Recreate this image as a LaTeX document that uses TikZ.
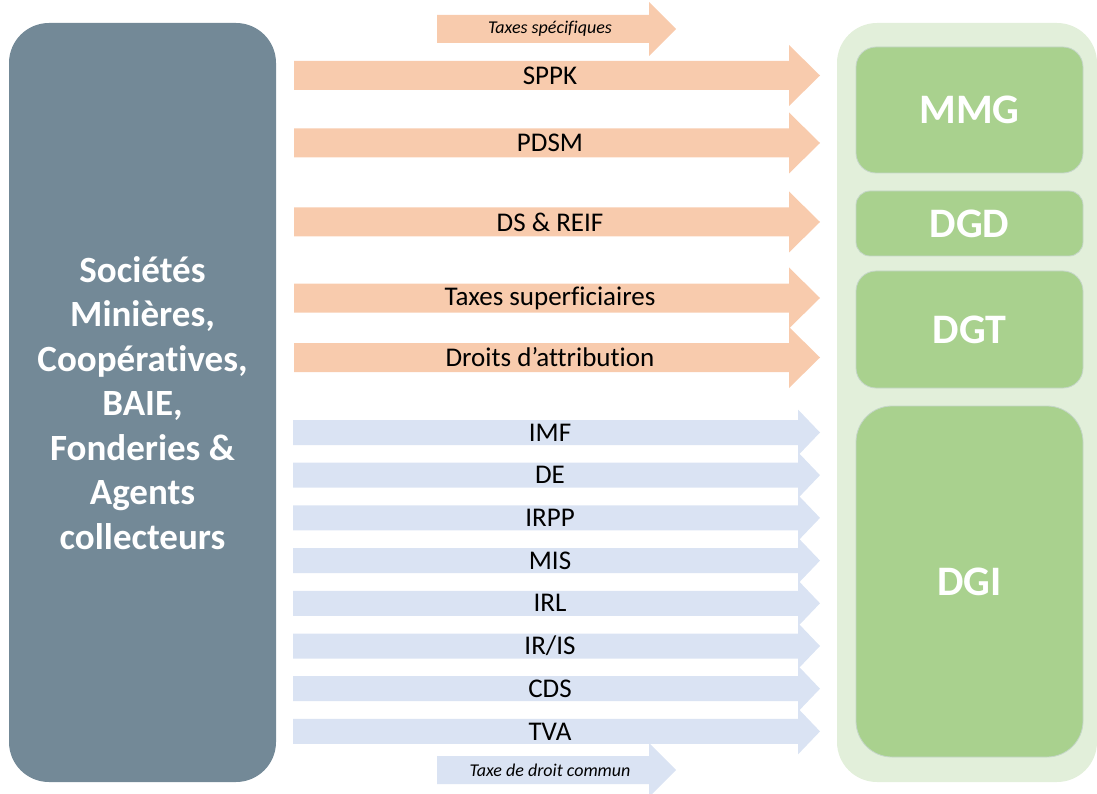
\documentclass[tikz,border=0pt]{standalone}
\usepackage{fontspec}
\setmainfont{Carlito}[Ligatures=NoCommon]
\definecolor{slate}{HTML}{738997}
\definecolor{orangefill}{HTML}{F8CBAD}
\definecolor{bluefill}{HTML}{DAE3F3}
\definecolor{panelfill}{HTML}{E2EFDA}
\definecolor{boxfill}{HTML}{A9D18E}
\definecolor{boxline}{HTML}{C5D6C8}
\begin{document}
\begin{tikzpicture}[x=1pt,y=-1pt,
  lbl/.style={inner sep=0pt, text=black, font=\fontsize{27}{32}\selectfont},
  smalllbl/.style={inner sep=0pt, text=black, font=\fontsize{18}{22}\selectfont\itshape},
  agency/.style={fill=boxfill, draw=boxline, line width=0.8pt, rounded corners=#1},
  agency/.default=20pt,
  agencylbl/.style={text=white, inner sep=0pt, font=\fontsize{42}{48}\selectfont\bfseries}]
\useasboundingbox (0,0) rectangle (1097,794);
% left source box
\fill[slate, rounded corners=40pt] (9,23) rectangle (276,782);
\node[align=center, text=white, inner sep=0pt, font=\fontsize{37}{44.5}\selectfont\bfseries] (src) at (142.5,403) {Sociétés\\Minières,\\Coopératives,\\BAIE,\\Fonderies \&\\Agents\\collecteurs};
% right panel
\fill[panelfill, rounded corners=40pt] (837,23) rectangle (1097,782);
\draw[agency] (856,47) rectangle (1083,173);
\node[agencylbl] (mmg) at (969.5,110) {MMG};
\draw[agency=14pt] (856,191) rectangle (1083,256);
\node[agencylbl] (dgd) at (969.5,223.5) {DGD};
\draw[agency] (856,271) rectangle (1083,388);
\node[agencylbl] (dgt) at (969.5,329.5) {DGT};
\draw[agency=36pt] (856,406) rectangle (1083,757);
\node[agencylbl] (dgi) at (969.5,581.5) {DGI};
% orange arrows
\fill[orangefill] (437,29-14) -- (649,29-14) -- (649,29-27) -- (676,29) -- (649,29+27) -- (649,29+14) -- (437,29+14) -- cycle;
\node[smalllbl] (tspec) at (550,29) {Taxes spécifiques};
\foreach \nm/\txt/\yc in {sppk/SPPK/75.5, pdsm/PDSM/143, dsreif/DS \& REIF/222, tsup/Taxes superficiaires/298, dattr/Droits d’attribution/357.5}{
  \fill[orangefill] (294,\yc-14.5) -- (789,\yc-14.5) -- (789,\yc-30.5) -- (820,\yc) -- (789,\yc+30.5) -- (789,\yc+14.5) -- (294,\yc+14.5) -- cycle;
  \node[lbl] (\nm) at (550,\yc) {\txt};
}
% blue arrows
\foreach \nm/\txt/\yc in {imf/IMF/432.5, de/DE/475.2, irpp/IRPP/517.9, mis/MIS/560.6, irl/IRL/603.3, iris/IR\slash IS/646, cds/CDS/688.7, tva/TVA/731.4}{
  \fill[bluefill] (293,\yc-12.5) -- (798,\yc-12.5) -- (798,\yc-23) -- (820,\yc) -- (798,\yc+23) -- (798,\yc+12.5) -- (293,\yc+12.5) -- cycle;
  \node[lbl] (\nm) at (550,\yc) {\txt};
}
\fill[bluefill] (437,770-14) -- (649,770-14) -- (649,770-27) -- (676,770) -- (649,770+27) -- (649,770+14) -- (437,770+14) -- cycle;
\node[smalllbl] (tdc) at (550,770) {Taxe de droit commun};
\end{tikzpicture}
\end{document}
